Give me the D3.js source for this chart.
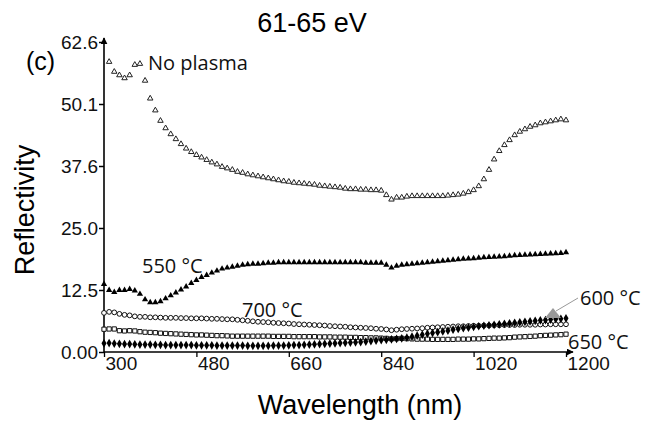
<!DOCTYPE html>
<html>
<head>
<meta charset="utf-8">
<script src="https://cdn.jsdelivr.net/npm/d3@7"></script>
<style>
  body { margin: 0; background: #fff; }
  svg { display: block; }
  .tick text { font-family: "Liberation Sans", Arial, sans-serif; font-size: 19px; fill: #111; }
  .note { font-family: "Open Sans", "Noto Sans", sans-serif; font-size: 20px; fill: #111; }
</style>
</head>
<body>
<div id="graph"></div>
<script>
// wavelength grid (nm), one sample every 10 nm
const wavelengths = [
  300,310,320,330,340,350,360,370,380,390,400,410,420,430,440,450,460,470,480,490,500,
  510,520,530,540,550,560,570,580,590,600,610,620,630,640,650,660,670,680,690,700,
  710,720,730,740,750,760,770,780,790,800,810,820,830,840,850,860,870,880,890,900,
  910,920,930,940,950,960,970,980,990,1000,1010,1020,1030,1040,1050,1060,1070,1080,1090,1100,
  1110,1120,1130,1140,1150,1160,1170,1180,1190,1200
];

// reflectivity series
const noPlasma = [
  null,58.6,56.6,55.9,55.3,55.9,58.0,58.2,54.8,51.2,48.8,46.7,45.2,44.0,43.0,42.0,41.1,40.4,39.8,39.3,38.8,
  38.3,37.9,37.4,37.1,36.8,36.4,36.2,35.9,35.7,35.5,35.3,35.1,34.9,34.7,34.5,34.4,34.2,34.1,34.0,33.9,
  33.8,33.6,33.5,33.4,33.3,33.2,33.0,32.9,32.9,32.8,32.8,32.7,32.7,32.6,31.7,30.8,31.2,31.2,31.4,31.5,
  31.5,31.5,31.5,31.5,31.5,31.5,31.6,31.7,31.8,32.0,32.3,32.7,33.5,34.9,36.8,38.9,40.6,41.8,42.8,43.8,
  44.5,45.0,45.5,45.8,46.2,46.4,46.6,46.8,47.0,46.8
];
const t550 = [
  13.7,12.5,12.1,12.5,12.5,12.7,12.4,11.7,10.6,10.0,10.0,10.2,10.8,11.4,12.0,12.6,13.2,13.9,14.5,15.1,15.5,
  16.0,16.4,16.8,17.0,17.2,17.4,17.6,17.7,17.8,17.8,17.9,18.0,18.0,18.1,18.1,18.1,18.1,18.1,18.1,18.1,
  18.1,18.1,18.1,18.1,18.1,18.1,18.1,18.1,18.1,18.1,18.0,18.0,18.0,18.0,17.6,17.0,17.4,17.6,17.7,17.8,
  17.9,18.0,18.1,18.2,18.3,18.4,18.5,18.6,18.7,18.8,18.85,18.9,19.0,19.1,19.15,19.2,19.25,19.3,19.4,19.5,
  19.55,19.6,19.65,19.7,19.75,19.8,19.85,19.9,19.95,20.1
];
const t700 = [
  7.9,8.1,8.0,7.7,7.5,7.4,7.2,7.1,7.1,7.0,7.0,6.95,6.9,6.9,6.9,6.85,6.85,6.8,6.8,6.8,6.75,
  6.7,6.7,6.65,6.6,6.6,6.5,6.4,6.3,6.2,6.1,6.05,6.0,5.9,5.85,5.8,5.75,5.65,5.6,5.55,5.5,
  5.45,5.4,5.35,5.25,5.2,5.15,5.1,5.0,4.95,4.9,4.85,4.8,4.7,4.65,4.55,4.4,4.5,4.6,4.65,4.7,
  4.75,4.8,4.9,4.95,5.0,5.05,5.1,5.15,5.2,5.2,5.25,5.3,5.3,5.35,5.35,5.4,5.4,5.45,5.45,5.45,
  5.5,5.5,5.5,5.5,5.55,5.55,5.6,5.6,5.6,5.6
];
const t650 = [
  4.6,4.65,4.65,4.3,4.25,4.3,4.25,4.1,4.0,3.95,3.9,3.8,3.75,3.7,3.65,3.6,3.55,3.5,3.45,3.45,3.4,
  3.35,3.3,3.3,3.25,3.2,3.2,3.2,3.2,3.2,3.2,3.2,3.2,3.15,3.15,3.15,3.15,3.1,3.1,3.1,3.1,
  3.1,3.05,3.05,3.05,3.0,3.0,3.0,2.95,2.95,2.9,2.9,2.85,2.85,2.8,2.75,2.65,2.7,2.75,2.7,2.65,
  2.6,2.6,2.6,2.55,2.55,2.55,2.55,2.55,2.6,2.6,2.6,2.65,2.65,2.7,2.75,2.8,2.8,2.85,2.9,3.0,
  3.05,3.1,3.15,3.2,3.3,3.35,3.4,3.45,3.5,3.6
];
const t600 = [
  1.75,1.8,1.7,1.65,1.6,1.6,1.55,1.5,1.5,1.5,1.45,1.45,1.4,1.4,1.4,1.4,1.4,1.4,1.35,1.35,1.35,
  1.35,1.3,1.3,1.3,1.3,1.3,1.3,1.25,1.25,1.25,1.25,1.25,1.3,1.3,1.3,1.35,1.4,1.4,1.45,1.5,
  1.55,1.6,1.65,1.7,1.75,1.8,1.85,1.9,1.95,2.0,2.1,2.2,2.3,2.4,2.45,2.55,2.65,2.75,2.9,3.1,
  3.3,3.5,3.7,3.85,4.0,4.15,4.3,4.5,4.65,4.8,4.9,5.05,5.2,5.3,5.4,5.5,5.6,5.7,5.8,5.9,
  6.0,6.1,6.2,6.3,6.4,6.45,6.55,6.65,6.7,6.8
];

const xTicks = [300, 480, 660, 840, 1020, 1200];
const yTicks = [0, 12.52, 25.04, 37.56, 50.08, 62.6];
const yTickLabels = ["0.00", "12.5", "25.0", "37.6", "50.1", "62.6"];

// set the dimensions and margins of the graph
const margin = {top: 42, right: 87, bottom: 69, left: 104},
      width = 653 - margin.left - margin.right,
      height = 421 - margin.top - margin.bottom;

const svgRoot = d3.select("#graph")
  .append("svg")
  .attr("width", 653)
  .attr("height", 421);

const defs = svgRoot.append("defs");
defs.append("marker")
  .attr("id", "axis-arrow")
  .attr("viewBox", "0 0 10 10")
  .attr("refX", 9).attr("refY", 5)
  .attr("markerWidth", 7).attr("markerHeight", 7)
  .attr("markerUnits", "userSpaceOnUse")
  .attr("orient", "auto")
  .append("path")
  .attr("d", "M0,0L10,5L0,10Z")
  .attr("fill", "#000");

const svg = svgRoot.append("g")
  .attr("transform", "translate(" + margin.left + "," + margin.top + ")");

const x = d3.scaleLinear().domain([300, 1200]).range([0, width]);
const y = d3.scaleLinear().domain([0, 62.6]).range([height, 0]);

// x axis
const xAxis = svg.append("g")
  .attr("transform", "translate(0," + height + ")")
  .call(d3.axisBottom(x).tickValues(xTicks).tickSize(5).tickFormat(d3.format("d")));
xAxis.select(".domain").remove();
xAxis.selectAll(".tick line").attr("stroke", "#000").attr("stroke-width", 1.3);
xAxis.selectAll(".tick text")
  .attr("text-anchor", "start")
  .attr("x", 1)
  .attr("y", 18)
  .attr("dy", 0);

// y axis
const yAxis = svg.append("g")
  .call(d3.axisLeft(y).tickValues(yTicks).tickSize(5).tickFormat((d, i) => yTickLabels[i]));
yAxis.select(".domain").remove();
yAxis.selectAll(".tick line").attr("stroke", "#000").attr("stroke-width", 1.5);
yAxis.selectAll(".tick text").attr("x", -6);

// axis lines with arrows
svg.append("line")
  .attr("x1", 0).attr("y1", height).attr("x2", width + 7).attr("y2", height)
  .attr("stroke", "#000").attr("stroke-width", 1.6)
  .attr("marker-end", "url(#axis-arrow)");
svg.append("line")
  .attr("x1", 0).attr("y1", height).attr("x2", 0).attr("y2", -4)
  .attr("stroke", "#000").attr("stroke-width", 1.6)
  .attr("marker-end", "url(#axis-arrow)");

// series
const series = [
  {values: noPlasma, symbol: d3.symbolTriangle, size: 13, fill: "#fff", stroke: "#222"},
  {values: t550, symbol: d3.symbolTriangle, size: 17, fill: "#000", stroke: "none"},
  {values: t700, symbol: d3.symbolCircle, size: 18, fill: "#fff", stroke: "#111"},
  {values: t650, symbol: d3.symbolSquare, size: 18, fill: "#fff", stroke: "#111"},
  {values: t600, symbol: d3.symbolDiamond, size: 22, fill: "#000", stroke: "none"}
];

series.forEach(function(s) {
  const pts = wavelengths
    .map(function(w, i) { return {w: w, v: s.values[i]}; })
    .filter(function(d) { return d.v != null; });
  svg.append("g")
    .selectAll("path")
    .data(pts)
    .join("path")
    .attr("transform", function(d) { return "translate(" + x(d.w) + "," + y(d.v) + ")"; })
    .attr("d", d3.symbol().type(s.symbol).size(s.size))
    .attr("fill", s.fill)
    .attr("stroke", s.stroke)
    .attr("stroke-width", 1);
});

// 600 C pointer
svg.append("line")
  .attr("x1", 578 - margin.left).attr("y1", 298 - margin.top)
  .attr("x2", 556 - margin.left).attr("y2", 311 - margin.top)
  .attr("stroke", "#999").attr("stroke-width", 1);
svg.append("path")
  .attr("d", "M" + (553 - margin.left) + "," + (308 - margin.top) +
             "L" + (561 - margin.left) + "," + (318 - margin.top) +
             "L" + (545 - margin.left) + "," + (318 - margin.top) + "Z")
  .attr("fill", "#999");

// series labels
const notes = [
  {text: "No plasma", x: 148, y: 70},
  {text: "550 °C", x: 142, y: 273},
  {text: "700 °C", x: 242, y: 317},
  {text: "600 °C", x: 580, y: 305},
  {text: "650 °C", x: 568, y: 349}
];
svgRoot.append("g")
  .selectAll("text")
  .data(notes)
  .join("text")
  .attr("class", "note")
  .attr("x", d => d.x)
  .attr("y", d => d.y)
  .text(d => d.text);

// title, panel letter, axis titles
svgRoot.append("text")
  .attr("x", 312).attr("y", 32)
  .attr("text-anchor", "middle")
  .style("font-family", "Liberation Sans, Arial, sans-serif")
  .style("font-size", "27px")
  .text("61-65 eV");

svgRoot.append("text")
  .attr("x", 26).attr("y", 70)
  .style("font-family", "Liberation Sans, Arial, sans-serif")
  .style("font-size", "25px")
  .text("(c)");

svgRoot.append("text")
  .attr("transform", "translate(34,210) rotate(-90)")
  .attr("text-anchor", "middle")
  .style("font-family", "Liberation Sans, Arial, sans-serif")
  .style("font-size", "27px")
  .text("Reflectivity");

svgRoot.append("text")
  .attr("x", 360).attr("y", 414)
  .attr("text-anchor", "middle")
  .style("font-family", "Liberation Sans, Arial, sans-serif")
  .style("font-size", "27px")
  .text("Wavelength (nm)");
</script>
</body>
</html>
